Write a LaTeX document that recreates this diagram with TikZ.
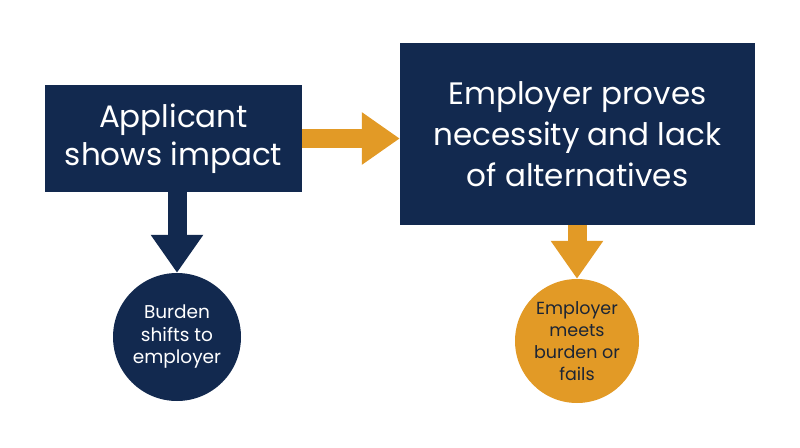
\documentclass[tikz,border=0pt]{standalone}
\usepackage{fontspec}
\setmainfont{Poppins}
\usetikzlibrary{arrows.meta}

\definecolor{navy}{HTML}{12294F}
\definecolor{amber}{HTML}{E29A26}
\definecolor{inkdark}{HTML}{1C2535}

\tikzset{
  bigbox/.style={fill=navy, text=white, align=center, inner sep=0pt},
  stepcircle/.style={circle, inner sep=0pt, minimum size=128pt, align=center,
    font=\fontsize{18.5}{22.5}\selectfont},
  fatarrow/.style={line width=19pt, -{Triangle[length=38pt,width=50pt]}}
}

\begin{document}
\begin{tikzpicture}[x=1pt, y=-1pt]
            \useasboundingbox (0,0) rectangle (800,447);
            % boxes
            \node[bigbox, minimum width=257pt, minimum height=107pt,
                  font=\fontsize{31}{38}\selectfont] (impact) at (173.5,138.5)
                 {Applicant\\shows impact};
            \node[bigbox, minimum width=355pt, minimum height=182pt,
                  font=\fontsize{31}{41}\selectfont] (necessity) at (577.5,134)
                 {Employer proves\\necessity and lack\\of alternatives};
            % circles
            \node[stepcircle, fill=navy, text=white] (shift) at (177,337)
                 {Burden\\shifts to\\employer};
            \node[stepcircle, fill=amber, text=inkdark, minimum size=124pt,
                  font=\fontsize{17.5}{22}\selectfont] (outcome) at (577,341)
                 {Employer\\meets\\burden or\\fails};
            % arrows
            \draw[fatarrow, amber] (impact.east) -- (impact.east -| necessity.west);
            \draw[fatarrow, navy] (shift.north |- impact.south) -- (shift.north);
            \draw[fatarrow, amber] (outcome.north |- necessity.south) -- (outcome.north);
        \end{tikzpicture}
\end{document}
